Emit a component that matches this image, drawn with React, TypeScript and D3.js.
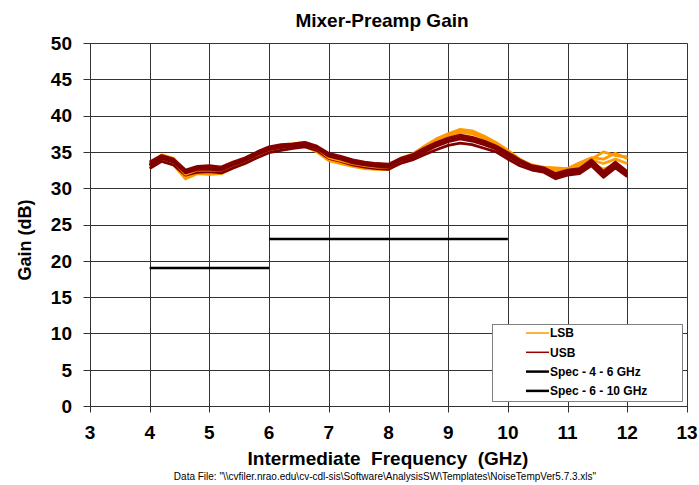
import { useEffect, useRef } from 'react';
import * as d3 from 'd3';

// IF frequency (GHz) of each sample
const freqs = [4.0, 4.2, 4.4, 4.6, 4.8, 5.0, 5.2, 5.4, 5.6, 5.8, 6.0, 6.2, 6.4, 6.6, 6.8, 7.0, 7.2, 7.4, 7.6, 7.8,
  8.0, 8.2, 8.4, 8.6, 8.8, 9.0, 9.2, 9.4, 9.6, 9.8, 10.0, 10.2, 10.4, 10.6, 10.8, 11.0, 11.2, 11.4, 11.6, 11.8, 12.0];

// LSB gain curves (dB)
const lsb1 = [32.8, 33.8, 33.2, 31.3, 32.0, 31.9, 32.0, 32.8, 33.5, 34.3, 35.0, 35.4, 35.6, 35.8, 35.0, 33.8, 33.4, 33.0, 32.7, 32.6,
  32.6, 33.5, 34.0, 34.9, 35.9, 36.6, 37.2, 37.0, 36.4, 35.6, 34.6, 33.5, 32.6, 32.3, 31.8, 31.9, 32.2, 33.4, 32.6, 33.3, 32.2];
const lsb2 = [33.5, 34.6, 34.1, 32.4, 32.9, 33.0, 32.9, 33.6, 34.1, 34.9, 35.6, 35.9, 36.1, 36.3, 35.7, 34.5, 34.1, 33.6, 33.3, 33.1,
  33.1, 34.1, 34.7, 35.8, 36.8, 37.5, 38.1, 37.9, 37.2, 36.3, 35.2, 34.0, 33.2, 32.9, 32.8, 32.7, 33.5, 34.2, 34.0, 34.8, 34.1];
const lsb3 = [33.0, 34.0, 33.5, 31.6, 32.3, 32.2, 32.3, 33.0, 33.7, 34.5, 35.2, 35.6, 35.8, 36.0, 35.3, 34.0, 33.6, 33.2, 32.9, 32.8,
  32.8, 33.8, 34.4, 35.4, 36.4, 37.1, 37.7, 37.5, 36.8, 35.9, 34.9, 33.8, 32.9, 32.6, 32.4, 32.4, 32.9, 33.9, 33.4, 34.0, 33.4];
const lsb4 = [33.2, 34.2, 33.7, 31.9, 32.5, 32.5, 32.5, 33.2, 33.9, 34.6, 35.3, 35.7, 35.9, 36.1, 35.5, 34.2, 33.8, 33.4, 33.1, 32.9,
  32.9, 33.9, 34.5, 35.6, 36.6, 37.3, 37.9, 37.6, 37.0, 36.1, 35.0, 33.9, 33.0, 32.7, 32.6, 32.5, 33.2, 34.0, 35.0, 34.5, 34.3];

// USB gain curves (dB)
const usb1 = [33.1, 34.1, 33.6, 32.1, 32.6, 32.6, 32.5, 33.2, 33.8, 34.6, 35.3, 35.6, 35.8, 36.0, 35.5, 34.4, 34.0, 33.5, 33.2, 33.0,
  32.9, 33.8, 34.2, 35.0, 35.8, 36.4, 36.8, 36.5, 36.0, 35.4, 34.4, 33.5, 32.8, 32.5, 31.6, 32.1, 32.3, 33.5, 31.8, 33.1, 31.9];
const usb2 = [33.6, 34.5, 34.0, 32.5, 33.0, 33.1, 32.9, 33.6, 34.2, 35.0, 35.7, 36.0, 36.1, 36.3, 35.8, 34.8, 34.4, 33.9, 33.6, 33.4,
  33.3, 34.1, 34.6, 35.5, 36.3, 36.9, 37.3, 37.0, 36.5, 35.8, 34.9, 33.9, 33.1, 32.8, 32.0, 32.5, 32.7, 33.9, 32.3, 33.6, 32.3];
const usb3 = [32.7, 33.7, 33.2, 31.8, 32.2, 32.3, 32.1, 32.8, 33.4, 34.2, 34.9, 35.2, 35.5, 35.7, 35.2, 34.1, 33.7, 33.2, 32.9, 32.7,
  32.6, 33.4, 33.9, 34.6, 35.3, 35.9, 36.2, 36.0, 35.5, 35.0, 34.0, 33.1, 32.5, 32.2, 31.3, 31.8, 32.0, 33.1, 31.5, 32.8, 31.6];
const usb4 = [33.3, 34.3, 33.8, 32.3, 32.8, 32.8, 32.7, 33.4, 34.0, 34.8, 35.5, 35.8, 36.0, 36.2, 35.6, 34.6, 34.2, 33.7, 33.4, 33.2,
  33.1, 33.9, 34.4, 35.2, 36.0, 36.6, 37.0, 36.8, 36.2, 35.6, 34.6, 33.7, 33.0, 32.7, 31.8, 32.3, 32.5, 33.7, 32.0, 33.3, 32.1];

// spec limits
const specLowFreqs = [4, 6];
const specLowGain = 19;
const specHighFreqs = [6, 10];
const specHighGain = 23;

const xTicks = [3, 4, 5, 6, 7, 8, 9, 10, 11, 12, 13];
const yTicks = [0, 5, 10, 15, 20, 25, 30, 35, 40, 45, 50];

const legendItems = [
  { label: 'LSB', color: '#ff9900', width: 1.5 },
  { label: 'USB', color: '#990000', width: 1.5 },
  { label: 'Spec - 4 - 6 GHz', color: '#000', width: 2.5 },
  { label: 'Spec - 6 - 10 GHz', color: '#000', width: 2.5 },
];

const font = '"Liberation Sans", Arial, sans-serif';

const App = () => {
  const svgRef = useRef<SVGSVGElement>(null);

  useEffect(() => {
    const width = 699;
    const height = 485;

    const svg = d3.select(svgRef.current)
      .attr('width', width)
      .attr('height', height)
      .style('font-family', font);

    svg.selectAll('*').remove();

    svg.append('rect').attr('width', width).attr('height', height).attr('fill', '#fff');

    const x = d3.scaleLinear().domain([3, 13]).range([90, 687]);
    const y = d3.scaleLinear().domain([0, 50]).range([406, 43]);
    const px = (v: number) => Math.round(x(v)) + 0.5;
    const py = (v: number) => Math.round(y(v)) + 0.5;

    // grid
    const grid = svg.append('g').attr('stroke', '#333').attr('stroke-width', 1);
    xTicks.forEach(t => {
      grid.append('line').attr('x1', px(t)).attr('x2', px(t)).attr('y1', py(50)).attr('y2', py(0) + 6);
    });
    yTicks.forEach(t => {
      grid.append('line').attr('x1', px(3) - 7).attr('x2', px(13)).attr('y1', py(t)).attr('y2', py(t));
    });

    // tick labels
    svg.append('g').selectAll('text')
      .data(yTicks)
      .enter()
      .append('text')
      .attr('x', 72)
      .attr('y', d => y(d))
      .attr('dy', '0.36em')
      .attr('text-anchor', 'end')
      .style('font-size', '19px')
      .style('font-weight', 'bold')
      .text(d => d);

    svg.append('g').selectAll('text')
      .data(xTicks)
      .enter()
      .append('text')
      .attr('x', d => x(d))
      .attr('y', 439)
      .attr('text-anchor', 'middle')
      .style('font-size', '19px')
      .style('font-weight', 'bold')
      .text(d => d);

    // series
    const line = d3.line<number>()
      .x((_, i) => x(freqs[i]))
      .y(d => y(d));

    const series = [
      { values: lsb1, color: '#ff9900' },
      { values: lsb2, color: '#ff9900' },
      { values: lsb3, color: '#ffa010' },
      { values: usb3, color: '#800000' },
      { values: lsb4, color: '#ff9900' },
      { values: usb1, color: '#800000' },
      { values: usb2, color: '#880000' },
      { values: usb4, color: '#800000' },
    ];

    svg.append('g').selectAll('path')
      .data(series)
      .enter()
      .append('path')
      .attr('d', d => line(d.values))
      .attr('fill', 'none')
      .attr('stroke', d => d.color)
      .attr('stroke-width', 2.8)
      .attr('stroke-linejoin', 'round');

    // spec lines
    const specs = [
      { f: specLowFreqs, g: specLowGain },
      { f: specHighFreqs, g: specHighGain },
    ];
    svg.append('g').selectAll('line')
      .data(specs)
      .enter()
      .append('line')
      .attr('x1', d => x(d.f[0]))
      .attr('x2', d => x(d.f[1]))
      .attr('y1', d => y(d.g))
      .attr('y2', d => y(d.g))
      .attr('stroke', '#000')
      .attr('stroke-width', 2.5);

    // legend
    const lg = svg.append('g');
    lg.append('rect')
      .attr('x', 492.5).attr('y', 324.5)
      .attr('width', 190).attr('height', 77)
      .attr('fill', '#fff')
      .attr('stroke', '#808080');
    legendItems.forEach((item, i) => {
      const ly = 333 + i * 19.3;
      lg.append('line')
        .attr('x1', 526).attr('x2', 549)
        .attr('y1', ly).attr('y2', ly)
        .attr('stroke', item.color)
        .attr('stroke-width', item.width);
      lg.append('text')
        .attr('x', 550).attr('y', ly)
        .attr('dy', '0.35em')
        .style('font-size', '12px')
        .style('font-weight', 'bold')
        .text(item.label);
    });

    // titles
    svg.append('text')
      .attr('x', 382).attr('y', 27)
      .attr('text-anchor', 'middle')
      .style('font-size', '19px')
      .style('font-weight', 'bold')
      .text('Mixer-Preamp Gain');

    svg.append('text')
      .attr('x', 388).attr('y', 465)
      .attr('text-anchor', 'middle')
      .style('font-size', '19px')
      .style('font-weight', 'bold')
      .style('white-space', 'pre')
      .text('Intermediate  Frequency  (GHz)');

    svg.append('text')
      .attr('transform', 'translate(31,240) rotate(-90)')
      .attr('text-anchor', 'middle')
      .style('font-size', '18px')
      .style('font-weight', 'bold')
      .text('Gain (dB)');

    svg.append('text')
      .attr('x', 385).attr('y', 480)
      .attr('text-anchor', 'middle')
      .style('font-size', '10px')
      .text('Data File: "\\\\cvfiler.nrao.edu\\cv-cdl-sis\\Software\\AnalysisSW\\Templates\\NoiseTempVer5.7.3.xls"');
  }, []);

  return (
    <svg ref={svgRef} style={{ position: 'absolute', left: 0, top: 0, display: 'block' }}></svg>
  );
};

export default App;
